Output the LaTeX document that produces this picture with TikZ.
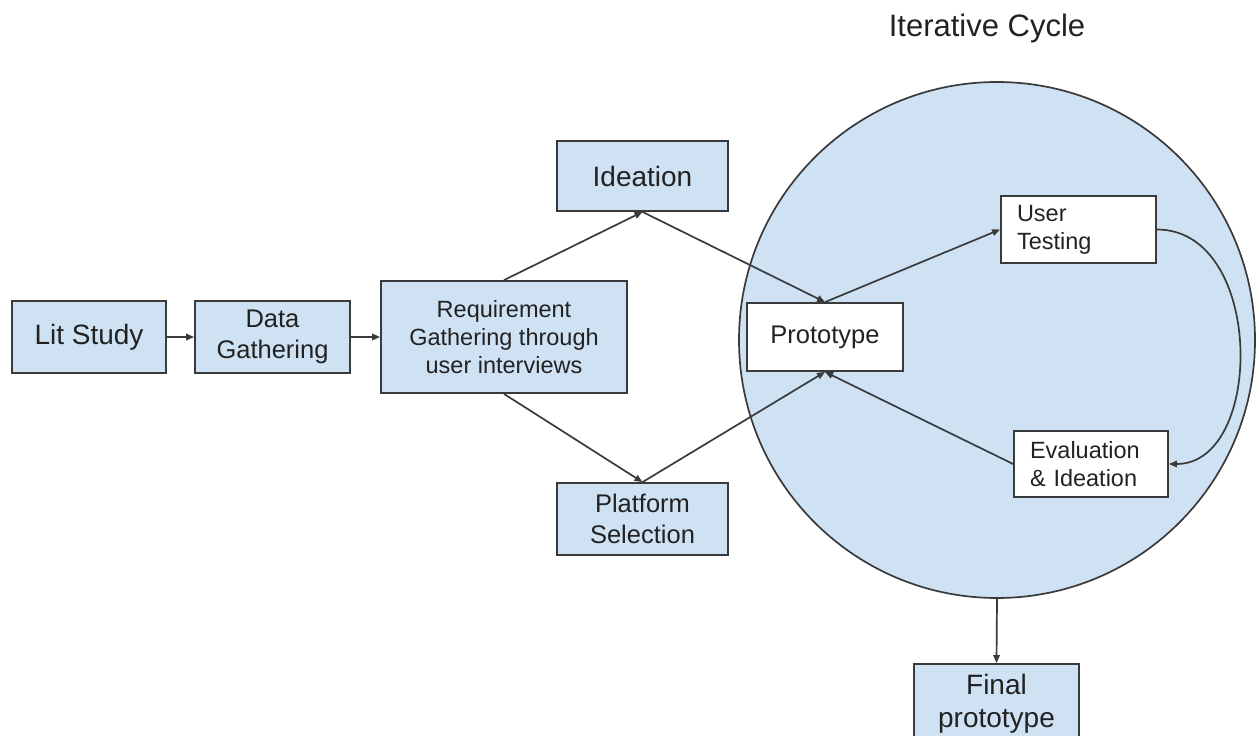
\documentclass[tikz,border=0pt]{standalone}
\usepackage{fontspec}
\setmainfont{Liberation Sans}
\usetikzlibrary{arrows.meta,backgrounds}
\definecolor{stagefill}{HTML}{CFE2F3}
\definecolor{stageline}{HTML}{3A3A3A}
\definecolor{stagetext}{HTML}{222222}
\tikzset{%
stage/.style={draw=stageline,fill=stagefill,line width=1.8pt,rectangle,inner sep=0pt,align=center,text=stagetext},
loopstage/.style={draw=stageline,fill=white,line width=1.8pt,rectangle,inner sep=0pt,align=center,text=stagetext},
loopnote/.style={loopstage,inner xsep=16pt,align=left},
flow/.style={draw=stageline,line width=1.7pt,-{Triangle[length=8pt,width=6.5pt]}},
bigtext/.style={font=\fontsize{28pt}{33pt}\selectfont},
midtext/.style={font=\fontsize{25.5pt}{31pt}\selectfont},
smalltext/.style={font=\fontsize{23.5pt}{28pt}\selectfont},
titletext/.style={font=\fontsize{31pt}{36pt}\selectfont}
}

\begin{document}
\begin{tikzpicture}[x=1pt,y=-1pt]
  \useasboundingbox (0,0) rectangle (1258,736);

  \node[circle,draw=stageline,fill=stagefill,line width=1.7pt,minimum size=516pt,inner sep=0pt] (cycle) at (997,340) {};
  \node[titletext,text=stagetext] (cycletitle) at (987,28) {Iterative Cycle};

  \node[stage,bigtext,minimum width=154pt,minimum height=72pt] (lit) at (89,337) {Lit Study};
  \node[stage,midtext,minimum width=155pt,minimum height=72pt] (data) at (272.5,337) {Data\\Gathering};
  \node[stage,smalltext,minimum width=246pt,minimum height=112pt] (req) at (504,337) {Requirement\\Gathering through\\user interviews};
  \node[stage,bigtext,minimum width=171pt,minimum height=70pt] (idea) at (642.5,176) {Ideation};
  \node[stage,midtext,minimum width=171pt,minimum height=72pt] (plat) at (642.5,519) {Platform\\Selection};

  \node[loopstage,midtext,minimum width=156pt,minimum height=68pt] (proto) at (825,337) {Prototype};
  \node[loopnote,smalltext,text width=123pt,minimum height=67pt] (test) at (1078.5,229.5) {User\\Testing};
  \node[loopnote,smalltext,text width=122pt,minimum height=66pt] (eval) at (1091,464) {Evaluation\\\& Ideation};

  \node[stage,bigtext,minimum width=165pt,minimum height=80pt] (final) at (996.5,704) {Final\\prototype};

  \draw[flow] (lit) -- (data);
  \draw[flow] (data) -- (req);
  \draw[flow] (req.north) -- (idea.south);
  \draw[flow] (req.south) -- (plat.north);
  \draw[flow] (idea.south) -- (proto.north);
  \draw[flow] (plat.north) -- (proto.south);
  \draw[flow] (proto.north) -- (test.west);
  \draw[flow] (eval.west) -- (proto.south);
  \draw[flow] (test.east) .. controls +(108,0) and +(96,0) .. (eval.east);
  \draw[flow] (cycle.south) -- (final.north);

\end{tikzpicture}
\end{document}
